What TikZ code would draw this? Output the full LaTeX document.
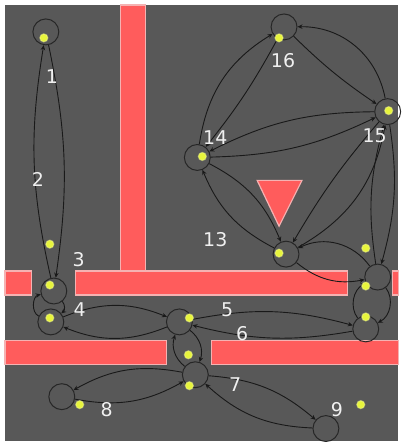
\documentclass[tikz,border=0pt]{standalone}
\usepackage{fontspec}
\setmainfont{DejaVu Sans}
\usetikzlibrary{arrows.meta}
\definecolor{floor}{RGB}{88,88,88}
\definecolor{wall}{RGB}{255,92,92}
\definecolor{wallrim}{RGB}{245,178,178}
\definecolor{goal}{RGB}{232,245,60}
\begin{document}
\begin{tikzpicture}[x=1pt,y=-1pt,
    state/.style={draw=black!85,circle,minimum size=26pt,inner sep=0pt,line width=1pt},
    dot/.style={circle,fill=goal,minimum size=8pt,inner sep=0pt,draw=goal!60,draw opacity=0.5,line width=1.2pt},
    num/.style={text=white!94!black,font=\fontsize{19}{19}\selectfont,inner sep=0pt},
    block/.style={fill=wall,draw=wallrim,line width=1.2pt},
    arrow/.style={-{Stealth[length=5pt,width=4.5pt]},line width=0.9pt,draw=black!90}
]
\fill[white] (0,0) rectangle (399,442);
\fill[floor] (5,5) rectangle (399,442);
\filldraw[block] (121,5) rectangle (146,272);
\filldraw[block] (76,272) rectangle (349,296);
\filldraw[block] (5,272) rectangle (32,296);
\filldraw[block] (394,272) rectangle (400,296);
\filldraw[block] (5,342) rectangle (167,366);
\filldraw[block] (212,342) rectangle (400,366);
\filldraw[block] (258,181) -- (303,181) -- (280,227) -- cycle;

\node[state] (n1) at (46,32) {};
\node[state] (n3) at (54,292) {};
\node[state] (n4) at (51,323) {};
\node[state] (n10) at (180,323) {};
\node[state] (n7) at (196,376) {};
\node[state] (n8) at (62,398) {};
\node[state] (n9) at (327,430) {};
\node[state] (n11) at (367,330) {};
\node[state] (n12) at (379,278) {};
\node[state] (n13) at (287,255) {};
\node[state] (n14) at (198,158) {};
\node[state] (n15) at (389,112) {};
\node[state] (n16) at (285,27) {};

\draw[arrow] (n1) to[bend left=10] (n3);
\draw[arrow] (n3) to[bend left=11] (n1);
\draw[arrow] (n3) to[bend left=45] (n4);
\draw[arrow] (n4) to[bend left=70] (n3);
\draw[arrow] (n4) to[bend left=22] (n10);
\draw[arrow] (n10) to[bend left=22] (n4);
\draw[arrow] (n10) to[bend left=13] (n11);
\draw[arrow] (n11) to[bend left=12] (n10);
\draw[arrow] (n10) to[bend left=35] (n7);
\draw[arrow] (n7) to[bend left=35] (n10);
\draw[arrow] (n7) to[bend right=20] (n8);
\draw[arrow] (n8) to[bend right=20] (n7);
\draw[arrow] (n7) to[bend left=18] (n9);
\draw[arrow] (n9) to[bend left=20] (n7);
\draw[arrow] (n11) to[bend left=50] (n12);
\draw[arrow] (n12) to[bend left=50] (n11);
\draw[arrow] (n12) to[bend right=40] (n13);
\draw[arrow] (n13) to[bend right=25] (n12);
\draw[arrow] (n14) to[bend left=20] (n13);
\draw[arrow] (n13) to[bend left=20] (n14);
\draw[arrow] (n14) to[bend right=12] (n15);
\draw[arrow] (n15) to[bend right=13] (n14);
\draw[arrow] (n14) to[bend left=25] (n16);
\draw[arrow] (n16) to[bend left=5] (n14);
\draw[arrow] (n15) to[bend right=40] (n16);
\draw[arrow] (n16) to[bend right=5] (n15);
\draw[arrow] (n15) to[bend right=5] (n13);
\draw[arrow] (n13) to[bend right=25] (n15);
\draw[arrow] (n12) to[bend left=12] (n15);
\draw[arrow] (n15) to[bend left=12] (n12);

\node[dot] (d1) at (44,38) {};
\node[dot] (d2) at (50,245) {};
\node[dot] (d3) at (50,286) {};
\node[dot] (d4) at (50,319) {};
\node[dot] (d5) at (190,319) {};
\node[dot] (d6) at (189,356) {};
\node[dot] (d7) at (190,387) {};
\node[dot] (d8) at (80,406) {};
\node[dot] (d9) at (362,406) {};
\node[dot] (d10) at (367,318) {};
\node[dot] (d11) at (367,287) {};
\node[dot] (d12) at (367,249) {};
\node[dot] (d13) at (280,254) {};
\node[dot] (d14) at (203,157) {};
\node[dot] (d15) at (390,111) {};
\node[dot] (d16) at (280,38) {};

\node[num] (l1) at (52,77) {1};
\node[num] (l2) at (38,180) {2};
\node[num] (l3) at (79,260) {3};
\node[num] (l4) at (80,311) {4};
\node[num] (l5) at (228,311) {5};
\node[num] (l6) at (243,335) {6};
\node[num] (l7) at (236,386) {7};
\node[num] (l8) at (107,411) {8};
\node[num] (l9) at (338,411) {9};
\node[num] (l13) at (216,240) {13};
\node[num] (l14) at (216,138) {14};
\node[num] (l15) at (376,136) {15};
\node[num] (l16) at (284,61) {16};
\end{tikzpicture}
\end{document}
